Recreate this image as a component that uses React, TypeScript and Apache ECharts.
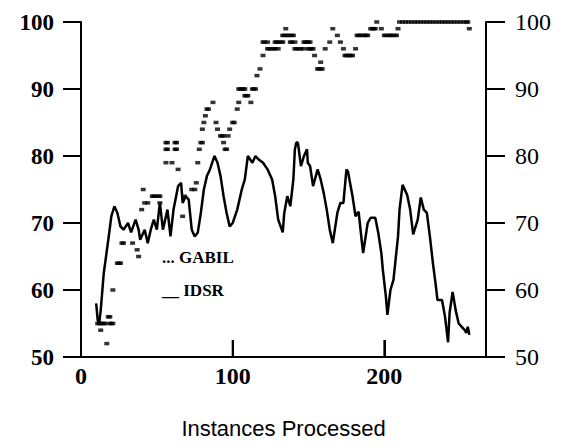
import React, { useEffect, useRef } from "react";
import * as echarts from "echarts";

const xTickLabels = ["0", "100", "200"];
const xTickValues = [100, 200];
const yTickValues = [50, 60, 70, 80, 90, 100];
const xMin = 0;
const xMax = 267;

const idsrPoints: [number, number][] = [
  [10, 58], [11, 55.5], [12, 55], [13, 57], [15, 62.5], [18, 67.5], [20, 71], [22, 72.5],
  [24, 71.5], [26, 69.5], [28, 69], [31, 70], [33, 68.6], [36, 70.5], [38, 69], [39, 67.5],
  [42, 69], [44, 67], [46, 69], [48, 70.5], [50, 69], [52, 73], [54, 69], [57, 72],
  [59, 68], [61, 72], [64, 75.5], [66, 76], [67, 73], [69, 74], [71, 73.5], [73, 69],
  [75, 68], [77, 68.6], [79, 71.5], [81, 75], [83, 77], [85, 78], [88, 80], [90, 79],
  [92, 77], [94, 74], [96, 71.5], [98, 69.5], [100, 70], [103, 72], [106, 75], [108, 76.5],
  [110, 80], [113, 79], [115, 80], [117, 79.5], [120, 79], [123, 78], [126, 76.5], [128, 74],
  [130, 70.5], [133, 68.6], [134, 71.5], [136, 74], [138, 72.5], [140, 76.5], [141, 81], [142, 82],
  [143, 82], [145, 78.5], [147, 80], [149, 81], [149.5, 79], [151, 78.5], [153, 75.5], [156, 78],
  [158, 76.5], [160, 74.5], [162, 72], [164, 69], [166, 67], [169, 71.5], [171, 73], [173, 73],
  [175, 78], [176, 77.7], [179, 74], [181, 71], [183, 71.7], [185, 67.5], [186, 65.5], [189, 70],
  [191, 70.8], [194, 70.8], [196, 68.5], [198, 65.5], [199, 63], [201, 59], [202, 56.3], [204, 60],
  [206, 61.5], [209, 68], [210, 72], [212, 75.7], [215, 74.2], [217, 72], [219, 68.3], [222, 70.5],
  [224, 73.8], [226, 72], [228, 71.5], [230, 68], [232, 64], [234, 60.5], [235, 58.5], [238, 58.5],
  [240, 56], [242, 52.2], [243, 56.6], [245, 59.7], [247, 57], [249, 55], [251, 54.5], [253, 54],
  [254, 53.6], [255, 54.5], [256, 53.3]
];

const gabilPoints: [number, number][] = [
  [11, 55], [12, 55], [13, 55], [14, 55], [15, 55], [16, 55], [19, 55], [20, 55], [21, 55],
  [13, 54], [17, 52], [18, 56], [19, 56], [21, 60],
  [24, 64], [25, 64], [26, 64], [27, 67], [28, 67], [34, 67], [37, 66], [38, 65],
  [40, 72], [41, 75], [42, 73], [44, 73], [47, 74], [48, 74], [49, 74], [51, 74], [52, 74], [52, 73],
  [56, 79], [56, 82], [57, 82], [56, 81], [57, 81], [60, 79], [62, 82], [63, 82], [62, 81], [63, 81], [64, 78],
  [67, 71], [68, 74], [73, 75], [75, 75], [76, 76],
  [77, 79], [78, 81], [79, 82], [80, 82], [80, 84], [81, 85], [82, 86], [83, 87], [84, 87], [87, 88],
  [89, 85], [90, 84], [92, 83], [93, 83], [94, 83], [94, 82], [95, 81], [96, 81], [97, 83], [98, 84],
  [100, 85], [101, 85], [103, 87],
  [104, 88], [104, 90], [105, 90], [106, 90], [107, 90], [108, 90], [108, 89], [109, 89], [110, 89],
  [112, 88], [113, 90], [114, 90], [115, 90], [116, 92], [118, 93], [120, 95],
  [120, 97], [121, 97], [123, 97], [123, 96], [124, 96], [125, 96], [127, 96], [128, 96], [130, 96],
  [128, 97], [129, 97], [130, 97], [132, 97], [133, 97],
  [133, 98], [134, 98], [135, 99], [136, 98], [137, 98], [139, 98], [140, 98], [138, 97], [139, 97], [141, 97],
  [141, 96], [142, 96], [144, 96], [145, 96], [147, 96], [147, 97], [148, 97], [149, 97], [150, 97],
  [151, 97], [150, 96], [151, 96], [152, 96], [153, 96],
  [154, 95], [158, 94], [156, 93], [157, 93], [158, 93], [159, 93], [161, 96], [164, 97], [166, 99],
  [169, 98], [171, 97], [173, 96],
  [174, 95], [175, 95], [176, 95], [177, 95], [178, 95], [179, 95], [181, 96],
  [182, 98], [183, 98], [184, 98], [186, 98], [187, 98], [188, 98], [189, 98],
  [191, 99], [192, 99], [193, 99], [194, 99], [195, 100],
  [198, 99], [200, 98], [201, 98], [203, 98], [204, 98], [205, 98], [207, 98], [208, 98], [209, 99],
  [210, 100], [212, 100], [214, 100], [216, 100], [218, 100], [220, 100], [222, 100], [224, 100],
  [226, 100], [228, 100], [230, 100], [232, 100], [234, 100], [236, 100], [238, 100], [240, 100],
  [242, 100], [244, 100], [246, 100], [248, 100], [250, 100], [252, 100], [254, 100], [255, 100],
  [256, 99]
];

const serif = "'Liberation Serif', 'Times New Roman', serif";

function tickSeries(name: string, data: number[][], dx: number, dy: number) {
  return {
    name,
    type: "custom",
    silent: true,
    clip: false,
    z: 5,
    data,
    renderItem: (_params: any, api: any) => {
      const p = api.coord([api.value(0), api.value(1)]);
      return {
        type: "line",
        shape: { x1: p[0], y1: p[1], x2: p[0] + dx, y2: p[1] + dy },
        style: { stroke: "#000", lineWidth: 2 },
      };
    },
  };
}

export default function App() {
  const ref = useRef<HTMLDivElement>(null);
  useEffect(() => {
    document.body.style.margin = "0";
    const chart = echarts.init(ref.current!, null, { renderer: "svg" });
    const yAxisBase = {
      type: "value" as const,
      min: yTickValues[0],
      max: yTickValues[yTickValues.length - 1],
      interval: 10,
      splitLine: { show: false },
      axisLine: { show: true, lineStyle: { color: "#000", width: 2 } },
      axisTick: { show: true, inside: false, length: 18, lineStyle: { color: "#000", width: 2 } },
    };
    chart.setOption({
      animation: false,
      backgroundColor: "#fff",
      grid: { left: 81, right: 82, top: 22, bottom: 89 },
      xAxis: {
        type: "value",
        min: xMin,
        max: xMax,
        interval: 100,
        name: "Instances Processed",
        nameLocation: "middle",
        nameGap: 60,
        nameTextStyle: { fontFamily: "'Liberation Sans', Arial, sans-serif", fontSize: 22, color: "#000" },
        splitLine: { show: false },
        axisLine: { show: true, lineStyle: { color: "#000", width: 2 } },
        axisTick: { show: true, inside: true, length: 17, lineStyle: { color: "#000", width: 2 } },
        axisLabel: {
          margin: 7,
          fontFamily: serif,
          fontWeight: "bold",
          fontSize: 24,
          color: "#000",
          formatter: (v: number) => (xTickLabels.includes(String(v)) ? String(v) : ""),
        },
      },
      yAxis: [
        {
          ...yAxisBase,
          position: "left",
          axisLabel: { margin: 27, fontFamily: serif, fontWeight: "bold", fontSize: 23, color: "#000" },
        },
        {
          ...yAxisBase,
          position: "right",
          axisLabel: { margin: 29, fontFamily: serif, fontSize: 24, color: "#000" },
        },
      ],
      series: [
        {
          name: "GABIL",
          type: "scatter",
          data: gabilPoints,
          symbol: "rect",
          symbolSize: [5, 3.5],
          itemStyle: { color: "#000" },
        },
        {
          name: "IDSR",
          type: "line",
          data: idsrPoints,
          showSymbol: false,
          symbol: "none",
          lineStyle: { color: "#000", width: 2.5 },
        },
        tickSeries("leftTicks", yTickValues.map((v) => [xMin, v]), -18, 0),
        tickSeries("rightTicks", yTickValues.map((v) => [xMax, v]), 19, 0),
        tickSeries("bottomTicks", xTickValues.map((v) => [v, yTickValues[0]]), 0, -17),
      ],
      graphic: [
        {
          type: "text",
          left: 162,
          top: 249,
          style: { text: "... GABIL", fontFamily: serif, fontWeight: "bold", fontSize: 17, fill: "#000" },
        },
        {
          type: "text",
          left: 162,
          top: 282,
          style: { text: "__ IDSR", fontFamily: serif, fontWeight: "bold", fontSize: 17, fill: "#000" },
        },
      ],
    });
    return () => chart.dispose();
  }, []);
  return <div ref={ref} style={{ width: 568, height: 446 }} />;
}
